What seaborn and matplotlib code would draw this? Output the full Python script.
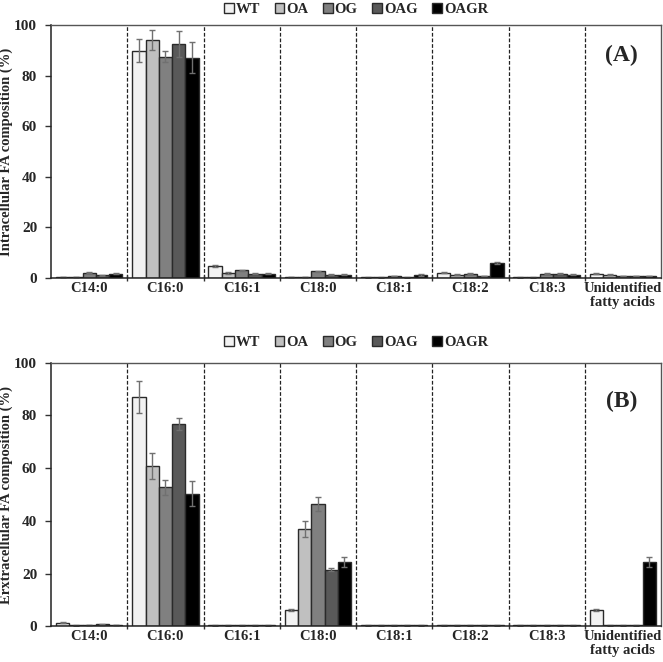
import numpy as np
import pandas as pd
import matplotlib
matplotlib.use("Agg")
import matplotlib.pyplot as plt
import seaborn as sns

# ==========================================
# Data
# ==========================================
categories = ["C14:0", "C16:0", "C16:1", "C18:0", "C18:1", "C18:2", "C18:3",
              "Unidentified\nfatty acids"]
strains = ["WT", "OA", "OG", "OAG", "OAGR"]
colors = ["#f2f2f2", "#c0c0c0", "#808080", "#595959", "#000000"]

# Intracellular (A): one list per strain, in category order
intra_WT = [0.4, 89.9, 4.9, 0.4, 0.3, 2.1, 0.3, 1.7]
intra_OA = [0.4, 94.1, 2.0, 0.4, 0.3, 1.3, 0.3, 1.3]
intra_OG = [2.1, 87.6, 3.0, 2.6, 0.9, 1.7, 1.6, 0.8]
intra_OAG = [1.1, 92.7, 1.7, 1.3, 0.3, 0.8, 1.6, 0.8]
intra_OAGR = [1.7, 87.2, 1.6, 1.3, 1.2, 5.9, 1.3, 0.8]

intra_WT_err = [0.1, 4.5, 0.4, 0.1, 0.1, 0.2, 0.1, 0.2]
intra_OA_err = [0.1, 3.8, 0.3, 0.1, 0.1, 0.2, 0.1, 0.2]
intra_OG_err = [0.2, 2.0, 0.2, 0.3, 0.1, 0.3, 0.2, 0.1]
intra_OAG_err = [0.2, 5.1, 0.3, 0.2, 0.1, 0.1, 0.2, 0.1]
intra_OAGR_err = [0.2, 6.1, 0.2, 0.2, 0.2, 0.4, 0.2, 0.1]

# Extracellular (B)
extra_WT = [1.3, 87.0, 0.3, 6.3, 0.3, 0.3, 0.3, 6.3]
extra_OA = [0.3, 60.9, 0.3, 36.8, 0.3, 0.3, 0.3, 0.3]
extra_OG = [0.4, 52.7, 0.3, 46.4, 0.3, 0.3, 0.3, 0.3]
extra_OAG = [0.75, 76.8, 0.3, 21.5, 0.3, 0.3, 0.3, 0.3]
extra_OAGR = [0.4, 50.3, 0.3, 24.3, 0.3, 0.3, 0.3, 24.3]

extra_WT_err = [0.2, 6.0, 0.1, 0.4, 0.1, 0.1, 0.1, 0.4]
extra_OA_err = [0.1, 5.0, 0.1, 3.0, 0.1, 0.1, 0.1, 0.1]
extra_OG_err = [0.1, 2.7, 0.1, 2.5, 0.1, 0.1, 0.1, 0.1]
extra_OAG_err = [0.1, 2.3, 0.1, 0.7, 0.1, 0.1, 0.1, 0.1]
extra_OAGR_err = [0.1, 4.8, 0.1, 2.0, 0.1, 0.1, 0.1, 2.0]


def make_frame(vals, errs):
	rows = []
	for s, v_list, e_list in zip(strains, vals, errs):
		for c, v, e in zip(categories, v_list, e_list):
			rows.append({"FA": c, "Strain": s, "Value": v, "Err": e})
	return pd.DataFrame(rows)


df_a = make_frame([intra_WT, intra_OA, intra_OG, intra_OAG, intra_OAGR],
				  [intra_WT_err, intra_OA_err, intra_OG_err, intra_OAG_err, intra_OAGR_err])
df_b = make_frame([extra_WT, extra_OA, extra_OG, extra_OAG, extra_OAGR],
				  [extra_WT_err, extra_OA_err, extra_OG_err, extra_OAG_err, extra_OAGR_err])

# ==========================================
# Style
# ==========================================
sns.set_theme(style="white")
plt.rcParams.update({
	"font.family": ["Liberation Serif", "DejaVu Serif"],
	"font.weight": "bold",
	"axes.labelweight": "bold",
	"font.size": 10,
})

fig = plt.figure(figsize=(6.63, 6.62), dpi=100)
ax_a = fig.add_axes([0.077, 0.580, 0.920, 0.382])
ax_b = fig.add_axes([0.077, 0.054, 0.920, 0.398])


def draw_panel(ax, df, ylabel, tag, tag_y, legend_y):
	sns.barplot(data=df, x="FA", y="Value", hue="Strain", order=categories,
				hue_order=strains, palette=colors, width=0.87, errorbar=None,
				edgecolor="#2a2a2a", linewidth=1.0, saturation=1, ax=ax)

	# error bars on top of each bar
	for cont, s in zip(ax.containers, strains):
		sub = df[df["Strain"] == s].set_index("FA").loc[categories]
		xs = [b.get_x() + b.get_width() / 2 for b in cont]
		hs = [b.get_height() for b in cont]
		ax.errorbar(xs, hs, yerr=sub["Err"].values, fmt="none",
					ecolor="#707070", elinewidth=1.0, capsize=2.5, capthick=1.0)

	handles, labels = ax.get_legend_handles_labels()
	ax.get_legend().remove()
	fig.legend(handles, labels, loc="center", ncol=5, frameon=False,
			   bbox_to_anchor=(0.537, legend_y), handlelength=0.65, handleheight=0.65,
			   handletextpad=0.15, columnspacing=1.0,
			   prop={"weight": "bold", "size": 10.5})

	ax.set_xlim(-0.5, len(categories) - 0.5)
	ax.set_ylim(0, 100)
	ax.set_yticks(range(0, 101, 20))
	ax.set_xticks(range(len(categories)))
	ax.set_xticklabels(categories, fontweight="bold", fontsize=10.5, linespacing=1.05)
	ax.set_xticks(np.arange(0.5, len(categories) - 0.5, 1), minor=True)
	ax.tick_params(axis="x", which="major", length=0, pad=3)
	ax.tick_params(axis="x", which="minor", length=5, direction="inout",
				   width=1, color="#333333", bottom=True)
	ax.tick_params(axis="y", which="major", length=4, direction="out",
				   width=1, color="#333333", left=True, labelsize=11, pad=6)
	for lab in ax.get_yticklabels():
		lab.set_fontweight("bold")
	ax.grid(False)
	ax.xaxis.grid(True, which="minor", linestyle=(0, (3, 1.5)), color="#222222", linewidth=0.9)
	ax.set_xlabel("")
	ax.set_ylabel(ylabel, fontsize=10.5, fontweight="bold")
	ax.yaxis.set_label_coords(-0.062, 0.5)
	for side in ["left", "bottom"]:
		ax.spines[side].set_color("#222222")
		ax.spines[side].set_linewidth(1.1)
	for side in ["top", "right"]:
		ax.spines[side].set_color("#555555")
		ax.spines[side].set_linewidth(1.0)
	ax.text(0.935, tag_y, tag, transform=ax.transAxes, ha="center", va="center",
			fontsize=17, fontweight="bold")


draw_panel(ax_a, df_a, "Intracellular FA composition (%)", "(A)", 0.88, 0.985)
draw_panel(ax_b, df_b, "Erxtracellular FA composition (%)", "(B)", 0.855, 0.482)

fig.savefig("out.png", dpi=100)
